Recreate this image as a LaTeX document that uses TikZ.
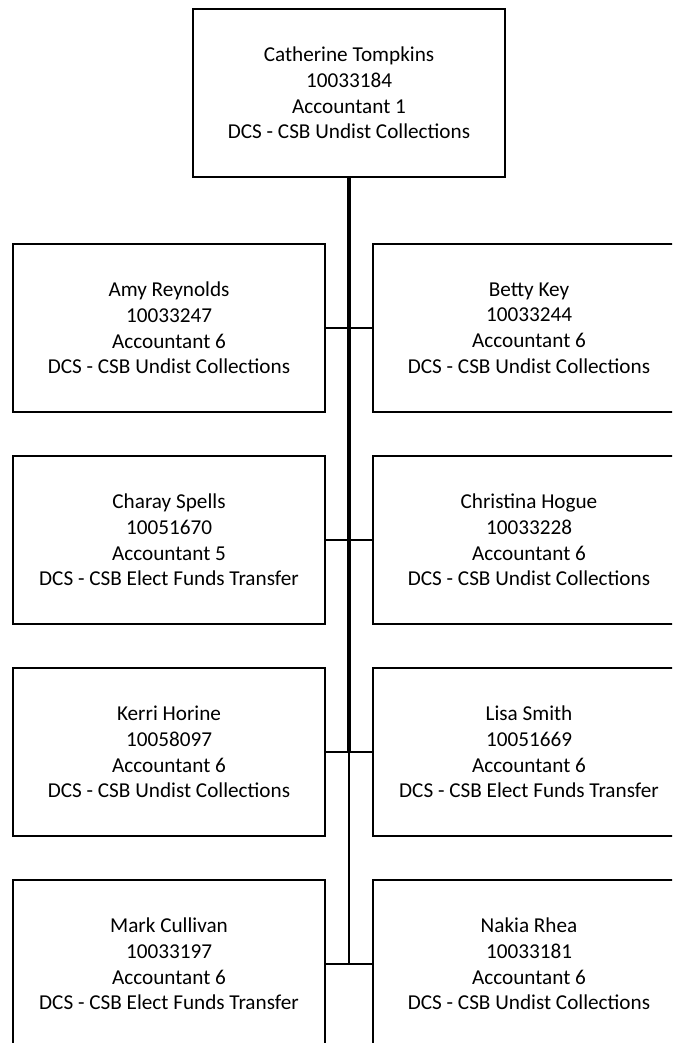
\documentclass[tikz,border=0pt]{standalone}
\usepackage{fontspec}
\setmainfont{Carlito}
\usetikzlibrary{positioning}

\begin{document}
\begin{tikzpicture}[x=1pt,y=1pt,thick,
  emp node/.style={rectangle,draw,line width=1.5pt,align=center,inner sep=0pt,outer sep=0pt,
    minimum width=312pt,minimum height=168pt,
    font=\fontsize{21.2}{25.8}\selectfont},
  trunk/.style={line width=3.5pt},
  branch/.style={line width=2pt}]
	% Área visible
	\clip (-349,93) rectangle (323,-950);

	% Definición de los nodos
	\node[emp node] (top) at (0,0) {Catherine Tompkins\\10033184\\Accountant 1\\DCS - CSB Undist Collections};

	\node[emp node] (amy) [below=67pt of top, xshift=-180pt] {Amy Reynolds\\10033247\\Accountant 6\\DCS - CSB Undist Collections};
	\node[emp node] (betty) [right=48pt of amy] {Betty Key\\10033244\\Accountant 6\\DCS - CSB Undist Collections};

	\node[emp node] (charay) [below=44pt of amy] {Charay Spells\\10051670\\Accountant 5\\DCS - CSB Elect Funds Transfer};
	\node[emp node] (christina) [right=48pt of charay] {Christina Hogue\\10033228\\Accountant 6\\DCS - CSB Undist Collections};

	\node[emp node] (kerri) [below=44pt of charay] {Kerri Horine\\10058097\\Accountant 6\\DCS - CSB Undist Collections};
	\node[emp node] (lisa) [right=48pt of kerri] {Lisa Smith\\10051669\\Accountant 6\\DCS - CSB Elect Funds Transfer};

	\node[emp node] (mark) [below=44pt of kerri] {Mark Cullivan\\10033197\\Accountant 6\\DCS - CSB Elect Funds Transfer};
	\node[emp node] (nakia) [right=48pt of mark] {Nakia Rhea\\10033181\\Accountant 6\\DCS - CSB Undist Collections};

	% Línea central
	\draw[trunk] (top.south) -- (top.south |- kerri.east);
	\draw[branch] (top.south |- kerri.east) -- (top.south |- mark.east);

	% Conexiones de cada fila
	\draw[branch] (amy.east) -- (betty.west);
	\draw[branch] (charay.east) -- (christina.west);
	\draw[branch] (kerri.east) -- (lisa.west);
	\draw[branch] (mark.east) -- (nakia.west);
\end{tikzpicture}
\end{document}
